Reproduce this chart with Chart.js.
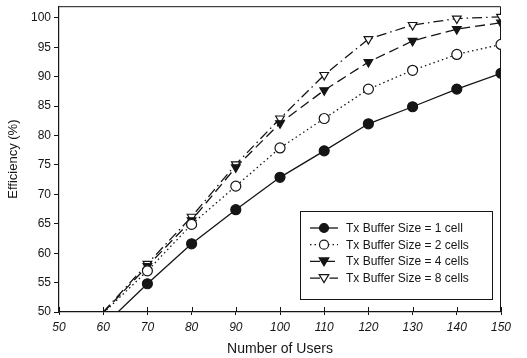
<!DOCTYPE html>
<html>
<head>
<meta charset="utf-8">
<script src="https://cdn.jsdelivr.net/npm/chart.js@4.4.0/dist/chart.umd.min.js"></script>
<style>
  html, body { margin: 0; padding: 0; background: #fff; }
  #wrap { width: 527px; height: 358px; }
</style>
</head>
<body>
<div id="wrap"><canvas id="chart" width="527" height="358"></canvas></div>
<script>
// values
const users = [60, 70, 80, 90, 100, 110, 120, 130, 140, 150];
const buffer1 = [47.6, 54.8, 61.6, 67.4, 72.9, 77.4, 82.0, 84.9, 87.9, 90.6];
const buffer2 = [49.8, 57.0, 64.9, 71.4, 77.9, 82.9, 87.9, 91.1, 93.8, 95.5];
const buffer4 = [49.9, 57.8, 65.6, 74.6, 82.1, 87.7, 92.5, 96.1, 98.1, 99.2];
const buffer8 = [50.0, 58.2, 66.2, 75.1, 82.9, 90.3, 96.4, 98.8, 99.9, 100.2];
const labels = ['Tx Buffer Size = 1 cell', 'Tx Buffer Size = 2 cells',
    'Tx Buffer Size = 4 cells', 'Tx Buffer Size = 8 cells'];
const xTicks = [50, 60, 70, 80, 90, 100, 110, 120, 130, 140, 150];

const ink = '#151515';
const font = 'Arial, "Liberation Sans", sans-serif';

function points(values) {
    return values.map((v, i) => ({ x: users[i], y: v }));
}

// first point (x=60) sits on/under the axis: no marker there
const radii = users.map(u => u === 60 ? 0 : 5);

function series(label, values, style, filled, dash, rotation) {
    return {
        label: label,
        data: points(values),
        borderColor: ink,
        borderWidth: 1.3,
        borderDash: dash,
        pointStyle: style,
        pointRotation: rotation || 0,
        pointRadius: radii,
        pointBorderWidth: 1.2,
        pointBorderColor: ink,
        pointBackgroundColor: filled ? ink : '#fff',
        tension: 0,
        clip: 0
    };
}

const datasets = [
    series(labels[0], buffer1, 'circle', true, []),
    series(labels[1], buffer2, 'circle', false, [1.5, 3]),
    series(labels[2], buffer4, 'triangle', true, [10, 5], 180),
    series(labels[3], buffer8, 'triangle', false, [10, 4, 1.5, 4], 180)
];

// legend box drawn inside the plot, bottom right
const boxLegend = {
    id: 'boxLegend',
    afterDatasetsDraw(chart) {
        const ctx = chart.ctx;
        const area = chart.chartArea;
        const w = 192, h = 88;
        const x0 = area.right - 9 - w, y0 = area.bottom - 13 - h;
        ctx.save();
        ctx.fillStyle = '#fff';
        ctx.fillRect(x0, y0, w, h);
        ctx.strokeStyle = ink;
        ctx.lineWidth = 1;
        ctx.setLineDash([]);
        ctx.strokeRect(x0 + 0.5, y0 + 0.5, w, h);
        chart.data.datasets.forEach((ds, i) => {
            const y = y0 + 17 + i * 16.7;
            ctx.strokeStyle = ink;
            ctx.lineWidth = 1.3;
            ctx.setLineDash(ds.borderDash);
            ctx.beginPath();
            ctx.moveTo(x0 + 10, y);
            ctx.lineTo(x0 + 38, y);
            ctx.stroke();
            ctx.setLineDash([]);
            ctx.lineWidth = 1.2;
            ctx.fillStyle = ds.pointBackgroundColor;
            ctx.strokeStyle = ink;
            ctx.beginPath();
            if (ds.pointStyle === 'circle') {
                ctx.arc(x0 + 24, y, 4.5, 0, Math.PI * 2);
            } else {
                ctx.moveTo(x0 + 24 - 4.8, y - 3.5);
                ctx.lineTo(x0 + 24 + 4.8, y - 3.5);
                ctx.lineTo(x0 + 24, y + 4.5);
                ctx.closePath();
            }
            ctx.fill();
            ctx.stroke();
            ctx.fillStyle = ink;
            ctx.font = '12px ' + font;
            ctx.textBaseline = 'middle';
            ctx.fillText(ds.label, x0 + 46, y + 0.5);
        });
        ctx.restore();
    }
};

// top and right frame lines, plus short inward ticks on the x axis
const frame = {
    id: 'frame',
    beforeDatasetsDraw(chart) {
        const ctx = chart.ctx;
        const a = chart.chartArea;
        const xs = chart.scales.x;
        ctx.save();
        ctx.strokeStyle = ink;
        ctx.lineWidth = 1;
        ctx.beginPath();
        ctx.moveTo(a.left, a.top + 0.5);
        ctx.lineTo(a.right - 0.5, a.top + 0.5);
        ctx.lineTo(a.right - 0.5, a.bottom);
        xTicks.forEach(v => {
            const px = Math.round(xs.getPixelForValue(v)) + 0.5;
            ctx.moveTo(px, a.bottom);
            ctx.lineTo(px, a.bottom - 5);
        });
        ctx.stroke();
        ctx.restore();
    }
};

const config = {
    type: 'line',
    data: { datasets: datasets },
    options: {
        responsive: false,
        animation: false,
        layout: { padding: { top: 4, right: 26, left: 6, bottom: 0 } },
        plugins: {
            legend: { display: false },
            tooltip: { enabled: false }
        },
        scales: {
            x: {
                type: 'linear',
                min: 50,
                max: 150,
                afterBuildTicks: (scale) => { scale.ticks = xTicks.map(v => ({ value: v })); },
                afterFit: (scale) => { scale.height = 46; },
                border: { color: ink, width: 1.2 },
                grid: { drawOnChartArea: false, color: ink, tickLength: 3 },
                ticks: {
                    color: ink,
                    padding: 5,
                    maxRotation: 0,
                    font: { family: font, size: 12, style: 'italic' }
                },
                title: {
                    display: true,
                    text: 'Number of Users',
                    color: ink,
                    padding: { top: 2, bottom: 0 },
                    font: { family: font, size: 14 }
                }
            },
            y: {
                type: 'linear',
                min: 50,
                max: 102,
                afterFit: (scale) => {
                    scale.width = 53;
                    scale.paddingTop = 0;
                    scale.paddingBottom = 0;
                },
                border: { color: ink, width: 1.2 },
                grid: { drawOnChartArea: false, color: ink, tickLength: 5 },
                ticks: {
                    stepSize: 5,
                    includeBounds: false,
                    color: ink,
                    padding: 3,
                    font: { family: font, size: 12 }
                },
                title: {
                    display: true,
                    text: 'Efficiency (%)',
                    color: ink,
                    padding: { top: 0, bottom: 4 },
                    font: { family: font, size: 13 }
                }
            }
        }
    },
    plugins: [frame, boxLegend]
};

new Chart(document.getElementById('chart'), config);
</script>
</body>
</html>
